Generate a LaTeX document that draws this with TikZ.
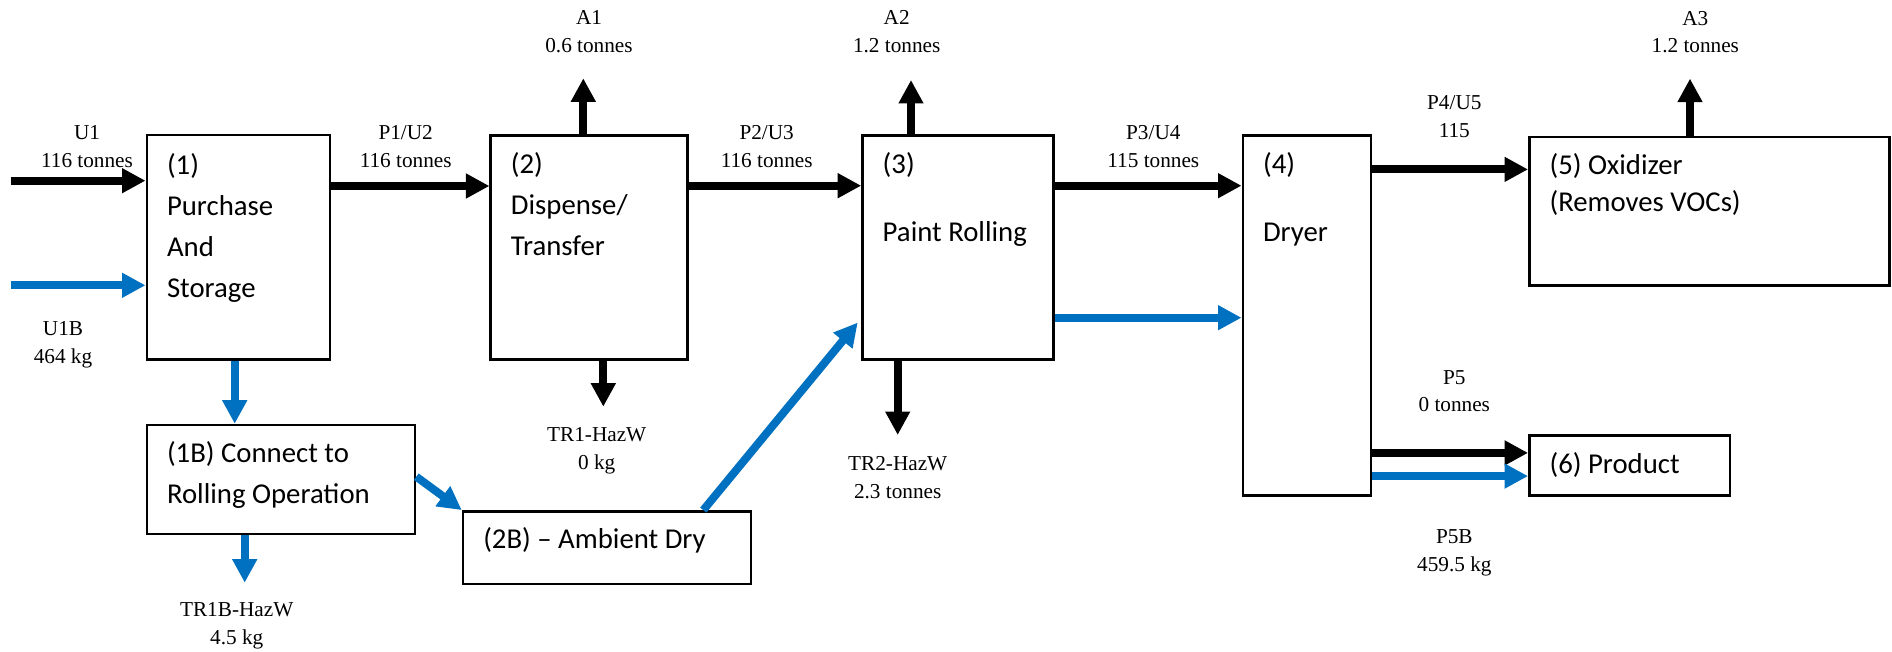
\documentclass[tikz,border=0pt]{standalone}
\usepackage{fontspec}
\setmainfont{Liberation Serif}
\newfontfamily\boxfont{Carlito}
\usetikzlibrary{arrows.meta}
\definecolor{flowblue}{RGB}{0,112,192}

\begin{document}
\begin{tikzpicture}[x=0.4pt,y=-0.4pt,
  box/.style={draw,line width=1pt,inner sep=0pt},
  btxt/.style={font=\boxfont\fontsize{11.5pt}{16.4pt}\selectfont,align=left,inner sep=0pt,anchor=base west},
  lbl/.style={font=\fontsize{8.5pt}{11.1pt}\selectfont,align=center,inner sep=0pt,anchor=base},
  f/.style={line width=3.2pt,-{Triangle[length=9.4pt,width=9.4pt]}},
  fb/.style={f,flowblue}]

\useasboundingbox (0,0) rectangle (1892,652);

% process boxes
\node[box,minimum width=73.3pt,minimum height=89.8pt] (b1) at (238.4,247.2) {};
\node[box,minimum width=78.8pt,minimum height=89.6pt] (b2) at (589.2,247.7) {};
\node[box,minimum width=76.5pt,minimum height=89.6pt] (b3) at (958.1,247.7) {};
\node[box,minimum width=51.3pt,minimum height=144pt] (b4) at (1306.9,315.7) {};
\node[box,minimum width=144.1pt,minimum height=59.5pt] (b5) at (1709.4,211.2) {};
\node[box,minimum width=80.3pt,minimum height=24pt] (b6) at (1629.7,465.7) {};
\node[box,minimum width=107.3pt,minimum height=43.6pt] (b1B) at (280.9,479.5) {};
\node[box,minimum width=115.2pt,minimum height=29.1pt] (b2B) at (607,547.7) {};

% box texts (anchored at the last line)
\node[btxt] (t1) at ([xshift=8.4pt,yshift=-65.6pt]b1.north west) {(1)\\Purchase\\And\\Storage};
\node[btxt] (t2) at ([xshift=8.4pt,yshift=-48.6pt]b2.north west) {(2)\\Dispense/\\Transfer};
\node[btxt] (t3) at ([xshift=8.4pt,yshift=-42.8pt]b3.north west) {(3)\\[10.7pt]Paint Rolling};
\node[btxt] (t4) at ([xshift=8.4pt,yshift=-42.8pt]b4.north west) {(4)\\[10.7pt]Dryer};
\node[btxt] (t5) at ([xshift=8.4pt,yshift=-30.4pt]b5.north west) {(5) Oxidizer\\[-1.7pt](Removes VOCs)};
\node[btxt] (t6) at ([xshift=8.4pt,yshift=-15.7pt]b6.north west) {(6) Product};
\node[btxt] (t1B) at ([xshift=8.4pt,yshift=-32pt]b1B.north west) {(1B) Connect to\\Rolling Operation};
\node[btxt] (t2B) at ([xshift=8.4pt,yshift=-15.5pt]b2B.north west) {(2B) \textendash{} Ambient Dry};

% free ends of the flows
\coordinate (u1) at (11,180.7);
\coordinate (u1b) at (11,285.3);
\coordinate (a1) at (583.3,78.3);
\coordinate (a2) at (911,80);
\coordinate (a3) at (1690,78.6);
\coordinate (tr1) at (603.3,406.7);
\coordinate (tr2) at (897.7,435);
\coordinate (tr1b) at (244.7,582.7);

% main flows (black)
\draw[f] (u1) -- (u1 -| b1.west);
\draw[f] (b1.east |- 0,186) -- (b2.west |- 0,186);
\draw[f] (b2.east |- 0,185.7) -- (b3.west |- 0,185.7);
\draw[f] (b3.east |- 0,185.7) -- (b4.west |- 0,185.7);
\draw[f] (b4.east |- 0,169.4) -- (b5.west |- 0,169.4);
\draw[f] (b4.east |- 0,452.9) -- (b6.west |- 0,452.9);
\draw[f] (a1 |- b2.north) -- (a1);
\draw[f] (a2 |- b3.north) -- (a2);
\draw[f] (a3 |- b5.north) -- (a3);
\draw[f] (tr1 |- b2.south) -- (tr1);
\draw[f] (tr2 |- b3.south) -- (tr2);

% B route (blue)
\draw[fb] (u1b) -- (u1b -| b1.west);
\draw[fb] (b1.south -| 234.7,0) -- (b1B.north -| 234.7,0);
\draw[fb] (tr1b |- b1B.south) -- (tr1b);
\draw[fb] (b1B.east |- 0,476.7) -- (b2B.north west);
\draw[fb,shorten >=2.2pt] (b2B.north -| 703.3,0) -- (b3.west |- 0,318.3);
\draw[fb] (b3.east |- 0,317.7) -- (b4.west |- 0,317.7);
\draw[fb] (b4.east |- 0,476.1) -- (b6.west |- 0,476.1);

% stream labels (anchored at the second line)
\node[lbl] (lu1) at (87,167.7) {U1\\116 tonnes};
\node[lbl] (lu1b) at (63,363.3) {U1B\\464 kg};
\node[lbl] (lp1) at (405.7,167.7) {P1/U2\\116 tonnes};
\node[lbl] (lp2) at (766.7,167.7) {P2/U3\\116 tonnes};
\node[lbl] (lp3) at (1153.3,167.7) {P3/U4\\115 tonnes};
\node[lbl] (lp4) at (1454.3,137.3) {P4/U5\\115};
\node[lbl] (lp5) at (1454.3,411.8) {P5\\0 tonnes};
\node[lbl] (lp5b) at (1454.3,571) {P5B\\459.5 kg};
\node[lbl] (la1) at (589,52.7) {A1\\0.6 tonnes};
\node[lbl] (la2) at (896.7,52.7) {A2\\1.2 tonnes};
\node[lbl] (la3) at (1695.3,53) {A3\\1.2 tonnes};
\node[lbl] (ltr1) at (596.7,469.3) {TR1-HazW\\0 kg};
\node[lbl] (ltr2) at (897.7,498.3) {TR2-HazW\\2.3 tonnes};
\node[lbl] (ltr1b) at (236.7,644) {TR1B-HazW\\4.5 kg};
\end{tikzpicture}
\end{document}
